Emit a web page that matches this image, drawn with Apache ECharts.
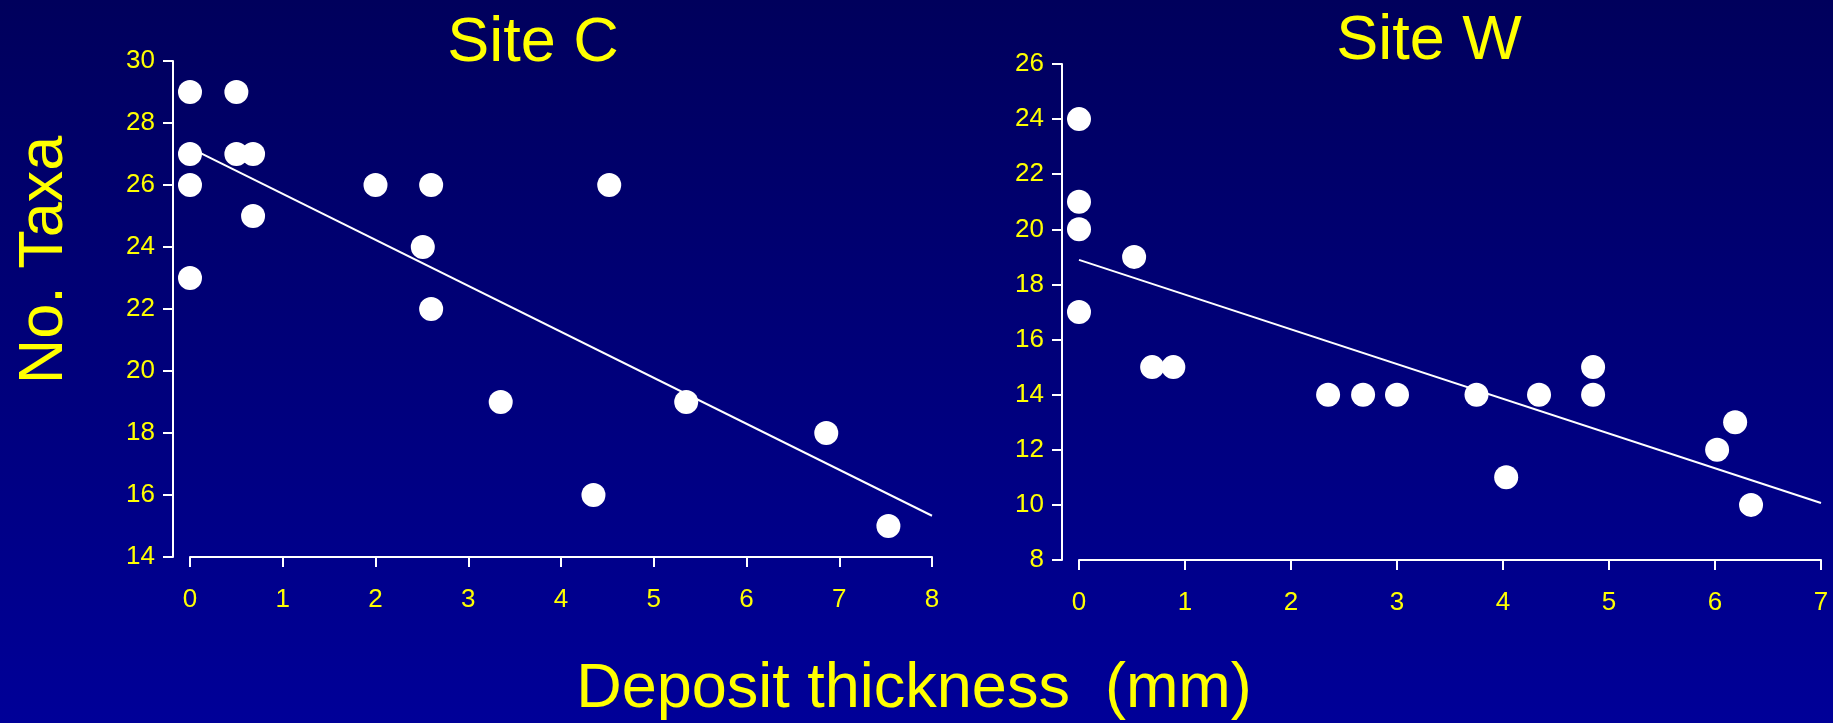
<!DOCTYPE html>
<html>
<head>
<meta charset="utf-8">
<script src="https://cdn.jsdelivr.net/npm/echarts@6/dist/echarts.min.js"></script>
<style>
  html, body { margin: 0; padding: 0; }
  #chart { width: 1833px; height: 723px; }
</style>
</head>
<body>
<div id="chart"></div>
<script>
// Site C: deposit thickness (mm) vs number of taxa
let siteCThickness = [0, 0, 0, 0, 0.5, 0.5, 0.68, 0.68, 2.0, 2.6, 2.51, 2.6, 3.35, 4.52, 4.35, 5.35, 6.86, 7.53]
let siteCTaxa      = [29, 27, 26, 23, 29, 27, 27, 25, 26, 26, 24, 22, 19, 26, 16, 19, 18, 15]
let siteCFitX = [0, 8]
let siteCFitY = [27.2, 15.33]

// Site W
let siteWThickness = [0, 0, 0, 0, 0.52, 0.69, 0.89, 2.35, 2.68, 3.0, 3.75, 4.03, 4.34, 4.85, 4.85, 6.02, 6.19, 6.34]
let siteWTaxa      = [24, 21, 20, 17, 19, 15, 15, 14, 14, 14, 14, 11, 14, 15, 14, 12, 13, 10]
let siteWFitX = [0, 7]
let siteWFitY = [18.89, 10.07]

let titles = ['Site C', 'Site W']
let yName = 'No. Taxa'
let xName = 'Deposit thickness  (mm)'

const yellow = '#FFFF00'
const font = '"Liberation Sans", Arial, sans-serif'

function pairs(xs, ys) {
  return xs.map((x, i) => [x, ys[i]])
}

function xAxisFor(gridIndex, max) {
  return {
    type: 'value', gridIndex: gridIndex, min: 0, max: max, interval: 1,
    splitLine: { show: false },
    axisLine: { show: true, onZero: false, lineStyle: { color: '#fff', width: 2 } },
    axisTick: { show: true, length: 10, lineStyle: { color: '#fff', width: 2 } },
    axisLabel: { color: yellow, fontSize: 26, fontFamily: font, margin: 30 }
  }
}

function yAxisFor(gridIndex, min, max) {
  return {
    type: 'value', gridIndex: gridIndex, min: min, max: max, interval: 2,
    offset: 17,
    splitLine: { show: false },
    axisLine: { show: true, onZero: false, lineStyle: { color: '#fff', width: 2 } },
    axisTick: { show: true, length: 10, lineStyle: { color: '#fff', width: 2 } },
    axisLabel: { color: yellow, fontSize: 26, fontFamily: font, margin: 18 }
  }
}

function bigText(text, x, y, rotation) {
  return {
    type: 'text', x: x, y: y, rotation: rotation || 0,
    style: {
      text: text, fill: yellow, font: '63px ' + font,
      textAlign: 'center', textVerticalAlign: 'middle'
    }
  }
}

let chart = echarts.init(document.getElementById('chart'))
chart.setOption({
  animation: false,
  backgroundColor: {
    type: 'linear', x: 0, y: 0, x2: 0, y2: 1,
    colorStops: [{ offset: 0, color: '#00005C' }, { offset: 1, color: '#000098' }]
  },
  grid: [
    { left: 190, top: 61, width: 742, height: 496 },
    { left: 1079, top: 64, width: 742, height: 496 }
  ],
  xAxis: [xAxisFor(0, 8), xAxisFor(1, 7)],
  yAxis: [yAxisFor(0, 14, 30), yAxisFor(1, 8, 26)],
  graphic: [
    bigText(titles[0], 533, 44),
    bigText(titles[1], 1429, 42),
    bigText(yName, 45, 260, Math.PI / 2),
    bigText(xName, 914, 690)
  ],
  series: [
    {
      type: 'line', xAxisIndex: 0, yAxisIndex: 0, data: pairs(siteCFitX, siteCFitY),
      showSymbol: false, lineStyle: { color: '#fff', width: 2 }, z: 1
    },
    {
      type: 'scatter', xAxisIndex: 0, yAxisIndex: 0, data: pairs(siteCThickness, siteCTaxa),
      symbolSize: 24, itemStyle: { color: '#fff', opacity: 1 }, z: 2
    },
    {
      type: 'line', xAxisIndex: 1, yAxisIndex: 1, data: pairs(siteWFitX, siteWFitY),
      showSymbol: false, lineStyle: { color: '#fff', width: 2 }, z: 1
    },
    {
      type: 'scatter', xAxisIndex: 1, yAxisIndex: 1, data: pairs(siteWThickness, siteWTaxa),
      symbolSize: 24, itemStyle: { color: '#fff', opacity: 1 }, z: 2
    }
  ]
})
</script>
</body>
</html>
